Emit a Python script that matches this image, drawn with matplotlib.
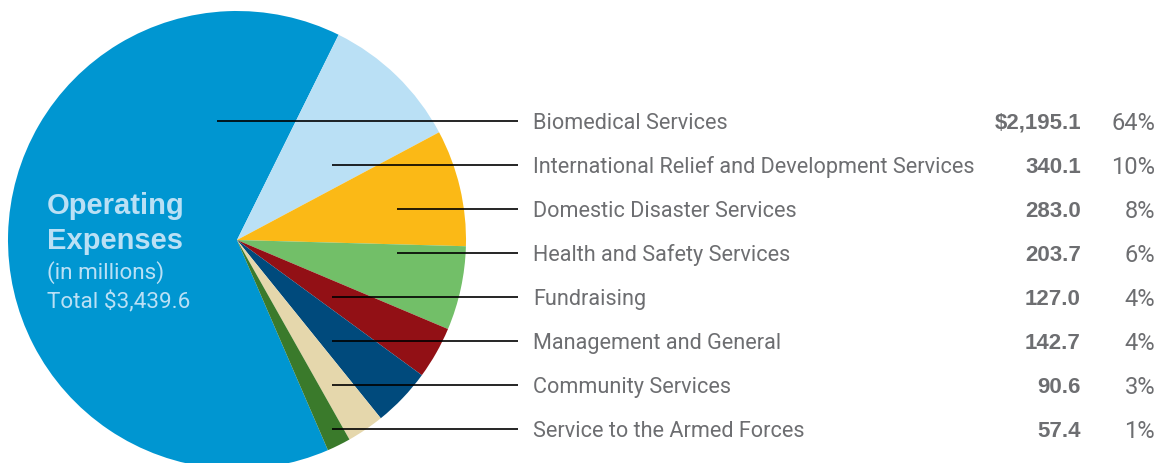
import matplotlib
matplotlib.use("Agg")
import matplotlib.pyplot as plt

categories = ["Biomedical Services",
              "International Relief and Development Services",
              "Domestic Disaster Services",
              "Health and Safety Services",
              "Fundraising",
              "Management and General",
              "Community Services",
              "Service to the Armed Forces"]
values = [2195.1, 340.1, 283.0, 203.7, 127.0, 142.7, 90.6, 57.4]
value_labels = ["$2,195.1", "340.1", "283.0", "203.7", "127.0", "142.7", "90.6", "57.4"]
pct_labels = ["64%", "10%", "8%", "6%", "4%", "4%", "3%", "1%"]
title_lines = ["Operating", "Expenses"]
sub_lines = ["(in millions)", "Total $3,439.6"]

colors = ["#0096D1", "#BAE0F5", "#FBB916", "#72BF68", "#921015", "#004A7C", "#E5D7AC", "#3A7A2B"]
leader_start_x = [217, 332, 397, 397, 332, 332, 332, 332]

W, H = 1162, 463
fig = plt.figure(figsize=(W / 100, H / 100), dpi=100)
ax = fig.add_axes([0, 0, 1, 1])

ax.pie(values, colors=colors, startangle=293.4, counterclock=False,
       center=(237, H - 240), radius=229, wedgeprops=dict(linewidth=0))
ax.set_xlim(0, W)
ax.set_ylim(0, H)
ax.set_aspect('equal')
ax.set_axis_off()

rob = ["Roboto", "DejaVu Sans"]
helv = ["Liberation Sans", "DejaVu Sans"]
gray = "#6D6E71"
row0, step = 121, 44
for i, cat in enumerate(categories):
    y = H - (row0 + i * step)
    ax.plot([leader_start_x[i], 518], [y, y], color="black", lw=1.2, solid_capstyle="butt")
    ax.text(533, y, cat, fontsize=15.6, color=gray, family=rob, fontweight="normal",
            ha="left", va="center_baseline")
    ax.text(1081, y, value_labels[i], fontsize=16, color=gray, family=helv,
            fontweight="bold", ha="right", va="center_baseline")
    ax.text(1155, y, pct_labels[i], fontsize=17, color=gray, family=rob,
            fontweight="normal", ha="right", va="center_baseline")

lb = "#BAE0F5"
for j, t in enumerate(title_lines):
    ax.text(47, H - (203 + 35 * j), t, fontsize=21, color=lb, family=helv,
            fontweight="bold", ha="left", va="center_baseline")
for j, t in enumerate(sub_lines):
    ax.text(47, H - (270 + 30 * j), t, fontsize=16.2, color=lb, family=rob,
            fontweight="normal", ha="left", va="center_baseline")

fig.savefig("out.png", dpi=100)
